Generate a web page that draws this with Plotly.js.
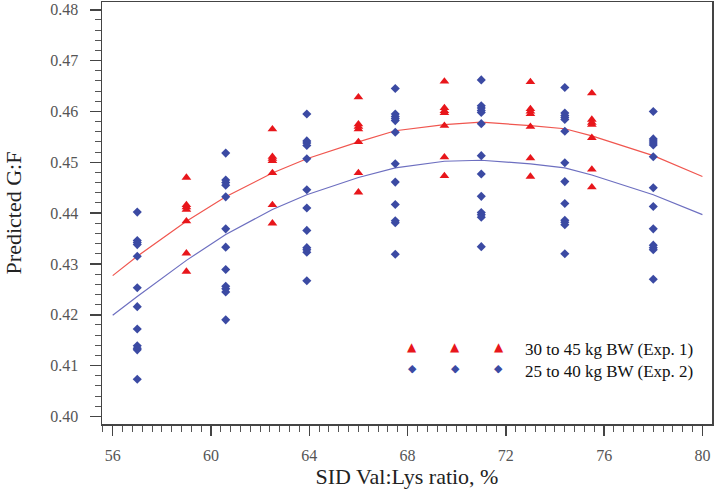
<!DOCTYPE html>
<html>
<head>
<meta charset="utf-8">
<script src="https://cdn.plot.ly/plotly-3.0.1.min.js"></script>
<style>html,body{margin:0;padding:0;background:#fff;}#chart{width:714px;height:502px;}</style>
</head>
<body>
<div id="chart"></div>
<script>
// Series names
const seriesNames = ["30 to 45 kg BW (Exp. 1)", "25 to 40 kg BW (Exp. 2)"];

// Exp. 1 (red triangles) observed points: x levels and values per level
const exp1Levels = [59, 62.5, 66, 69.5, 73, 75.5];
const exp1Values = [
  [0.4470, 0.4416, 0.4412, 0.4407, 0.4384, 0.4321, 0.4285],
  [0.4565, 0.4511, 0.4507, 0.4503, 0.4479, 0.4416, 0.4380],
  [0.4628, 0.4575, 0.4570, 0.4565, 0.4540, 0.4479, 0.4441],
  [0.4659, 0.4607, 0.4601, 0.4597, 0.4572, 0.4510, 0.4473],
  [0.4658, 0.4605, 0.4600, 0.4595, 0.4570, 0.4508, 0.4472],
  [0.4636, 0.4584, 0.4578, 0.4574, 0.4548, 0.4486, 0.4451]
];

// Exp. 2 (blue diamonds) observed points
const exp2Levels = [57, 60.6, 63.9, 67.5, 71, 74.4, 78];
const exp2Values = [
  [0.4402, 0.4346, 0.4342, 0.4338, 0.4315, 0.4253, 0.4216, 0.4172, 0.4139, 0.4134, 0.4131, 0.4073],
  [0.4518, 0.4465, 0.4460, 0.4455, 0.4432, 0.4369, 0.4333, 0.4289, 0.4256, 0.4251, 0.4245, 0.4190],
  [0.4595, 0.4542, 0.4538, 0.4533, 0.4507, 0.4446, 0.4410, 0.4366, 0.4332, 0.4328, 0.4323, 0.4267],
  [0.4645, 0.4595, 0.4590, 0.4586, 0.4582, 0.4559, 0.4497, 0.4461, 0.4417, 0.4385, 0.4381, 0.4319],
  [0.4662, 0.4611, 0.4607, 0.4602, 0.4598, 0.4576, 0.4513, 0.4477, 0.4433, 0.4401, 0.4397, 0.4392, 0.4334],
  [0.4647, 0.4597, 0.4592, 0.4588, 0.4584, 0.4561, 0.4499, 0.4462, 0.4419, 0.4386, 0.4382, 0.4377, 0.4320],
  [0.4600, 0.4546, 0.4542, 0.4538, 0.4534, 0.4511, 0.4450, 0.4413, 0.4369, 0.4337, 0.4332, 0.4328, 0.4270]
];

// Predicted curves
const curveX    = [56, 57, 59, 60.6, 62.5, 63.9, 66, 67.5, 69.5, 71, 73, 74.4, 75.5, 78, 80];
const curveExp1 = [0.4277, 0.4315, 0.4384, 0.4432, 0.4479, 0.4507, 0.4540, 0.4562, 0.4574, 0.4579, 0.4572, 0.4566, 0.4552, 0.4513, 0.4472];
const curveExp2 = [0.4199, 0.4236, 0.4307, 0.4358, 0.4407, 0.4436, 0.4470, 0.4489, 0.4502, 0.4504, 0.4497, 0.4489, 0.4475, 0.4436, 0.4397];

// Axis ticks
const xTicks = [56, 60, 64, 68, 72, 76, 80];
const yTicks = [0.40, 0.41, 0.42, 0.43, 0.44, 0.45, 0.46, 0.47, 0.48];

const RED = "#e8161b", BLUE = "#3b4aa3";
const RED_LINE = "#f0564f", BLUE_LINE = "#6d6fc0";

function flatten(levels, values) {
  const xs = [], ys = [];
  levels.forEach((lv, i) => values[i].forEach(v => { xs.push(lv); ys.push(v); }));
  return {xs, ys};
}
const e1 = flatten(exp1Levels, exp1Values);
const e2 = flatten(exp2Levels, exp2Values);

const traces = [
  {x: curveX, y: curveExp1, mode: "lines", line: {color: RED_LINE, width: 1.2}, showlegend: false, hoverinfo: "skip"},
  {x: curveX, y: curveExp2, mode: "lines", line: {color: BLUE_LINE, width: 1.2}, showlegend: false, hoverinfo: "skip"},
  {x: e1.xs, y: e1.ys, mode: "markers", name: seriesNames[0], marker: {symbol: "triangle-up", size: 8.5, color: RED}, showlegend: false},
  {x: e2.xs, y: e2.ys, mode: "markers", name: seriesNames[1], marker: {symbol: "diamond", size: 7, color: BLUE}, showlegend: false}
];

const SERIF = "Liberation Serif";
const tickFont = {family: SERIF, size: 16, color: "#555"};
const titleFont = {family: SERIF, size: 22, color: "#222"};
const legFont = {family: SERIF, size: 17, color: "#111"};

// Legend built from annotations (three glyphs per row, as in the reference)
const glyphX = [0.509, 0.5787, 0.6505];
const ann = [];
glyphX.forEach(gx => {
  ann.push({xref: "paper", yref: "paper", x: gx, y: 0.183, text: "▲", showarrow: false, font: {family: "DejaVu Sans", size: 12, color: RED}, xanchor: "center", yanchor: "middle"});
  ann.push({xref: "paper", yref: "paper", x: gx, y: 0.132, text: "◆", showarrow: false, font: {family: "DejaVu Sans", size: 11, color: BLUE}, xanchor: "center", yanchor: "middle"});
});
ann.push({xref: "paper", yref: "paper", x: 0.690, y: 0.176, text: seriesNames[0], showarrow: false, font: legFont, xanchor: "left", yanchor: "middle"});
ann.push({xref: "paper", yref: "paper", x: 0.690, y: 0.124, text: seriesNames[1], showarrow: false, font: legFont, xanchor: "left", yanchor: "middle"});

const layout = {
  width: 714, height: 502,
  margin: {l: 102, r: 2, t: 2, b: 78},
  paper_bgcolor: "#fff", plot_bgcolor: "#fff",
  showlegend: false,
  xaxis: {
    range: [55.565, 80.39], tickvals: xTicks, ticktext: xTicks.map(String),
    ticks: "outside", ticklen: 10, tickwidth: 1.5, tickcolor: "#444",
    minor: {dtick: 0.4, tick0: 56, ticks: "outside", ticklen: 6, tickwidth: 1, tickcolor: "#555"},
    showline: true, linecolor: "#444", linewidth: 1.5, mirror: true,
    showgrid: false, zeroline: false, tickfont: tickFont, ticklabelstandoff: 6,
    title: {text: "SID Val:Lys ratio, %", font: titleFont, standoff: 0}
  },
  yaxis: {
    range: [0.39851, 0.48153], tickvals: yTicks, ticktext: yTicks.map(v => v.toFixed(2)),
    ticks: "outside", ticklen: 11, tickwidth: 1.5, tickcolor: "#444",
    minor: {dtick: 0.002, tick0: 0.40, ticks: "outside", ticklen: 6, tickwidth: 1, tickcolor: "#555"},
    showline: true, linecolor: "#444", linewidth: 1.5, mirror: true,
    showgrid: false, zeroline: false, tickfont: tickFont, ticklabelstandoff: 8,
    title: {text: "Predicted G:F", font: titleFont, standoff: 22}
  },
  annotations: ann
};

Plotly.newPlot("chart", traces, layout, {displayModeBar: false, staticPlot: true});
</script>
</body>
</html>
